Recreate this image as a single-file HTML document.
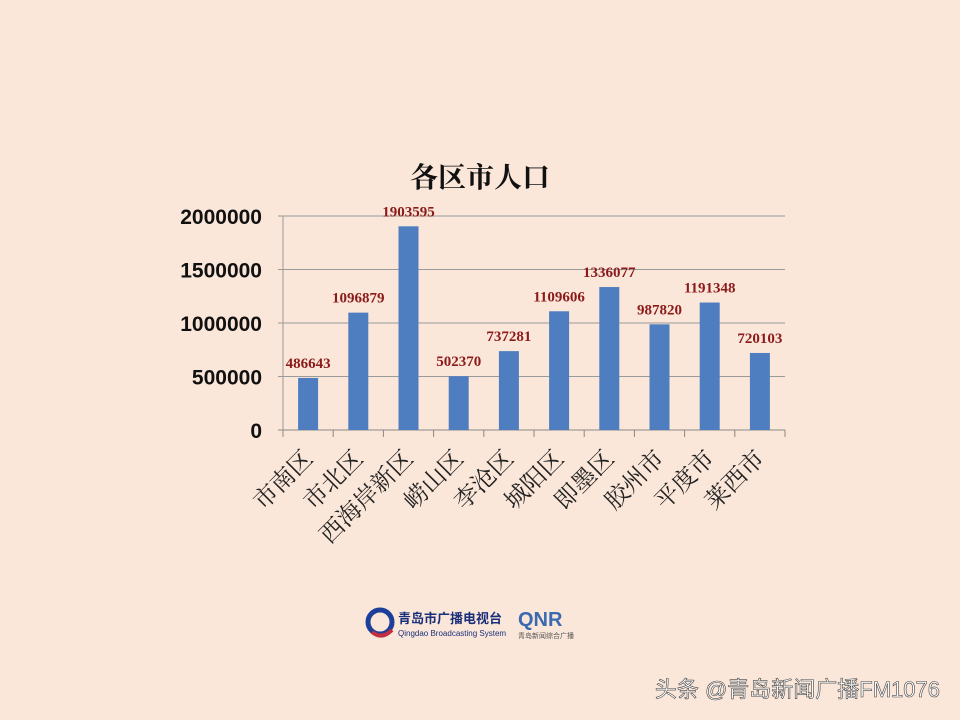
<!DOCTYPE html>
<html><head><meta charset="utf-8"><style>
body{margin:0;background:#fbe7d9;}
svg{display:block}
</style></head><body>
<svg width="960" height="720" viewBox="0 0 960 720" xmlns="http://www.w3.org/2000/svg">
<rect width="960" height="720" fill="#fbe7d9"/>
<text x="480" y="187" text-anchor="middle" font-family="'Liberation Serif','Noto Serif CJK SC',serif" font-weight="bold" font-size="28" fill="#111">各区市人口</text>
<g id="grid"></g>
<g id="yt"></g>
<g id="bars"></g>
<g id="xt"></g>
<g>
<circle cx="380" cy="622" r="12" fill="none" stroke="#1d3f9a" stroke-width="5"/>
<path d="M372 632 Q382 640 392 630" stroke="#c03040" stroke-width="4" fill="none"/>
<text x="398" y="623" font-family="'Liberation Sans','Noto Sans CJK SC',sans-serif" font-weight="bold" font-size="13" fill="#1a2f7a">青岛市广播电视台</text>
<text x="398" y="636" font-family="'Liberation Sans',sans-serif" font-size="8" fill="#1a2f7a">Qingdao Broadcasting System</text>
<text x="518" y="626" font-family="'Liberation Sans',sans-serif" font-weight="bold" font-size="20" fill="#3a6ab0">QNR</text>
<text x="518" y="638" font-family="'Liberation Sans','Noto Sans CJK SC',sans-serif" font-size="7" fill="#555">青岛新闻综合广播</text>
</g>
<text x="940" y="697" text-anchor="end" font-family="'Liberation Sans','Noto Sans CJK SC',sans-serif" font-size="22" fill="#fff" stroke="#444" stroke-width="0.6">头条 @青岛新闻广播FM1076</text>
</svg>
<script>
const categories=["市南区","市北区","西海岸新区","崂山区","李沧区","城阳区","即墨区","胶州市","平度市","莱西市"];
const values=[486643,1096879,1903595,502370,737281,1109606,1336077,987820,1191348,720103];
const yTicks=[0,500000,1000000,1500000,2000000];
const NS="http://www.w3.org/2000/svg";
const x0=283,x1=785,yBase=430,yTop=216,yMax=2000000;
const bw=(x1-x0)/categories.length;
const yS=v=>yBase-(v/yMax)*(yBase-yTop);
const xC=i=>x0+bw*(i+0.5);
function mk(t,a,p){const e=document.createElementNS(NS,t);for(const k in a)e.setAttribute(k,a[k]);p.appendChild(e);return e;}
const grid=document.getElementById('grid'),yt=document.getElementById('yt'),bars=document.getElementById('bars'),xt=document.getElementById('xt');
yTicks.forEach(v=>{
 const l=mk('line',{x1:x0-5,x2:x1,y1:yS(v),y2:yS(v),stroke:v===0?'#888':'#9a9a9a','stroke-width':1},grid);
 
 
 const t=mk('text',{x:262,y:yS(v)+8,'text-anchor':'end','font-family':"'Liberation Sans',sans-serif",'font-weight':'bold','font-size':21,fill:'#111'},yt);
 t.textContent=v;
 
 
});
const ax=mk('line',{x1:x0,x2:x0,y1:yTop,y2:yBase,stroke:'#999'},grid);


for(let i=0;i<=categories.length;i++){
 const tk=mk('line',{x1:x0+bw*i,x2:x0+bw*i,y1:yBase,y2:yBase+7,stroke:'#888'},grid);
 
 
}
values.forEach((v,i)=>{
 const r=mk('rect',{x:xC(i)-10,y:yS(v),width:20,height:yBase-yS(v),fill:'#4f7ec0'},bars);
 
 
 const t=mk('text',{x:xC(i),y:yS(v)-10,'text-anchor':'middle','font-family':"'Liberation Serif',serif",'font-weight':'bold','font-size':15,fill:'#8b1a1a'},bars);
 t.textContent=v;
 
 
});
categories.forEach((c,i)=>{
 const t=mk('text',{x:0,y:0,'text-anchor':'end','font-family':"'Liberation Serif','Noto Serif CJK SC',serif",'font-size':24,fill:'#222',transform:`translate(${xC(i)+6},${yBase+30}) rotate(-45)`},xt);
 t.textContent=c;
 
 
});
</script>
</body></html>
